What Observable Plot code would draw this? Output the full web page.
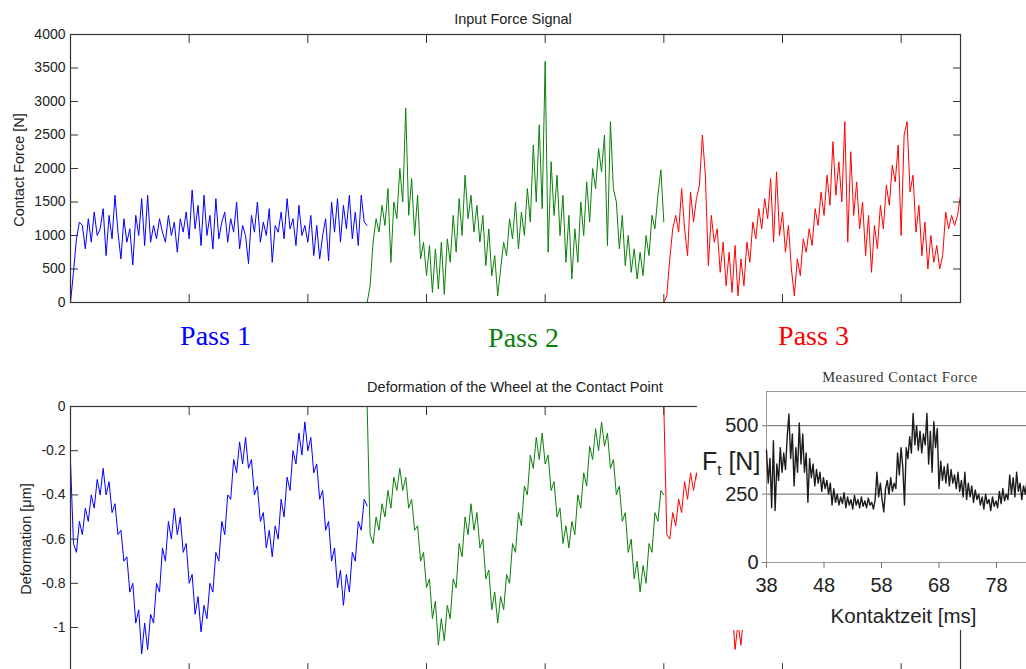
<!DOCTYPE html>
<html><head><meta charset="utf-8">
<script src="https://cdn.jsdelivr.net/npm/d3@7"></script>
<script src="https://cdn.jsdelivr.net/npm/@observablehq/plot@0.6"></script>
<style>
html,body{margin:0;padding:0;background:#fff;overflow:hidden}
#wrap{position:relative;width:1026px;height:669px;overflow:hidden;background:#fff}
.layer{position:absolute}
</style></head><body><div id="wrap"></div>
<script>
// ---------- data ----------
const passNames = ["Pass 1", "Pass 2", "Pass 3"];
const passColors = ["#0000ff", "#0a800a", "#ff0000"];
const passStarts = [0, 2.5, 5];
const passLength = 2.5;
const samplesPerPass = 100;

const forcePass1 = [
  0, 450, 950, 1200, 1150, 800, 1250, 900, 1350, 1000,
  1100, 1400, 700, 1300, 950, 1600, 1050, 650, 1250, 900,
  1100, 560, 1300, 1000, 1550, 850, 1600, 900, 1150, 950,
  1250, 1050, 900, 1300, 1000, 1200, 750, 1250, 1050, 1350,
  950, 1680, 1100, 1450, 850, 1600, 1000, 1300, 800, 1550,
  950, 1200, 1350, 900, 1250, 1050, 1500, 800, 1150, 1000,
  580, 1300, 1050, 1500, 900, 1200, 1000, 1400, 600, 1150,
  1050, 1350, 950, 1550, 1100, 1250, 850, 1450, 1000, 1150,
  900, 1300, 700, 1150, 650, 1000, 1250, 620, 1500, 1050,
  1550, 900, 1450, 1100, 1600, 950, 1350, 850, 1600, 1200,
  1150
];
const forcePass2 = [
  0, 250, 900, 1250, 1050, 1450, 1150, 1700, 600, 1500,
  1250, 2000, 1500, 2900, 1300, 1850, 1000, 1600, 650, 900,
  400, 850, 150, 800, 200, 900, 120, 950, 600, 1300,
  750, 1550, 1000, 1900, 1250, 1600, 1050, 1450, 900, 1300,
  550, 1100, 400, 700, 100, 500, 900, 700, 1250, 950,
  1500, 800, 1350, 1000, 1700, 1200, 2350, 1500, 2650, 1400,
  3600, 750, 2100, 1300, 1900, 1000, 1600, 600, 1300, 350,
  1100, 600, 1500, 1000, 1800, 1200, 2000, 1700, 2300, 1950,
  2500, 850, 2700, 1700, 1500, 800, 1300, 550, 1000, 450,
  800, 350, 750, 400, 1000, 700, 1300, 1100, 1600, 1980,
  1200
];
const forcePass3 = [
  0, 100, 650, 1100, 1300, 1050, 1700, 1100, 700, 1650,
  1200, 1550, 1750, 2500, 1900, 550, 1300, 900, 1100, 450,
  900, 250, 750, 150, 850, 100, 650, 250, 900, 600,
  1200, 950, 1400, 1100, 1550, 1250, 1850, 900, 1950, 1000,
  1350, 750, 1150, 500, 100, 650, 400, 950, 750, 1100,
  850, 1400, 1150, 1650, 1300, 1900, 1450, 2400, 1600, 2100,
  1500, 2700, 900, 2250, 1300, 1800, 1100, 1500, 700, 1300,
  450, 1150, 800, 1450, 1100, 1750, 1450, 2050, 1800, 2350,
  1000, 2500, 2700, 1650, 1900, 1050, 1450, 700, 1200, 500,
  1000, 600, 850, 500, 700, 1350, 1100, 1300, 1150, 1300,
  1600
];

const deformPass1 = [
  -0.25, -0.62, -0.66, -0.52, -0.58, -0.46, -0.52, -0.40, -0.46, -0.33,
  -0.40, -0.28, -0.40, -0.34, -0.48, -0.44, -0.58, -0.56, -0.70, -0.68,
  -0.84, -0.80, -0.98, -0.92, -1.12, -0.98, -1.10, -0.94, -0.98, -0.80,
  -0.84, -0.64, -0.70, -0.52, -0.60, -0.46, -0.58, -0.50, -0.66, -0.62,
  -0.80, -0.76, -0.94, -0.86, -1.02, -0.90, -0.96, -0.80, -0.84, -0.66,
  -0.70, -0.52, -0.58, -0.40, -0.42, -0.24, -0.30, -0.16, -0.26, -0.14,
  -0.28, -0.24, -0.40, -0.36, -0.52, -0.48, -0.64, -0.56, -0.68, -0.54,
  -0.60, -0.42, -0.50, -0.32, -0.38, -0.20, -0.26, -0.12, -0.22, -0.07,
  -0.20, -0.14, -0.30, -0.26, -0.42, -0.38, -0.56, -0.52, -0.70, -0.64,
  -0.82, -0.74, -0.90, -0.76, -0.84, -0.66, -0.70, -0.52, -0.56, -0.42,
  -0.45
];
const deformPass2 = [
  0, -0.58, -0.62, -0.50, -0.56, -0.44, -0.50, -0.38, -0.46, -0.32,
  -0.38, -0.28, -0.38, -0.32, -0.46, -0.42, -0.56, -0.54, -0.70, -0.66,
  -0.82, -0.78, -0.96, -0.88, -1.08, -0.96, -1.06, -0.90, -0.96, -0.78,
  -0.82, -0.62, -0.68, -0.50, -0.58, -0.44, -0.56, -0.48, -0.64, -0.60,
  -0.78, -0.74, -0.92, -0.84, -0.98, -0.86, -0.92, -0.76, -0.80, -0.62,
  -0.66, -0.48, -0.54, -0.36, -0.40, -0.22, -0.28, -0.14, -0.24, -0.12,
  -0.26, -0.22, -0.38, -0.34, -0.50, -0.46, -0.62, -0.54, -0.64, -0.52,
  -0.58, -0.40, -0.46, -0.30, -0.36, -0.18, -0.24, -0.10, -0.20, -0.07,
  -0.18, -0.12, -0.28, -0.24, -0.40, -0.36, -0.52, -0.48, -0.66, -0.60,
  -0.78, -0.70, -0.84, -0.72, -0.80, -0.62, -0.66, -0.48, -0.52, -0.38,
  -0.40
];
const deformPass3 = [
  0, -0.58, -0.60, -0.48, -0.54, -0.42, -0.48, -0.34, -0.42, -0.30,
  -0.38, -0.30, -0.40, -0.34, -0.48, -0.44, -0.58, -0.56, -0.72, -0.68,
  -0.84, -0.80, -0.98, -0.90, -1.10, -0.98, -1.08, -0.92, -0.98, -0.80,
  -0.84, -0.64, -0.70, -0.52, -0.60, -0.46, -0.58, -0.50, -0.66, -0.62,
  -0.80
];

const measuredStart = 38;
const measuredStep = 0.3;
const measuredForce = [
  410, 290, 380, 200, 445, 190, 360, 300, 420, 330,
  400, 340, 460, 543, 380, 470, 280, 420, 330, 510,
  360, 470, 330, 400, 220, 380, 310, 360, 280, 340,
  290, 330, 260, 310, 270, 300, 250, 290, 210, 270,
  220, 250, 210, 240, 215, 255, 200, 240, 210, 230,
  195, 245, 210, 230, 200, 240, 205, 225, 200, 235,
  210, 220, 195, 230, 330, 240, 290, 230, 185, 270,
  300, 250, 310, 260, 290, 270, 400, 320, 420, 350,
  210, 420, 380, 460, 400, 545, 430, 500, 410, 480,
  400, 470, 430, 545, 360, 480, 330, 515, 420, 490,
  270, 370, 300, 350, 290, 360, 280, 340, 290, 320,
  270, 330, 260, 300, 240, 330, 230, 290, 240, 280,
  220, 265, 230, 250, 210, 240, 195, 250, 215, 230,
  190, 240, 205, 225, 200, 260, 215, 270, 225, 250,
  230, 320, 250, 310, 240, 330, 260, 290, 230, 280,
  250, 300, 240, 280
];

const forceTicks = [0, 500, 1000, 1500, 2000, 2500, 3000, 3500, 4000];
const deformTicks = [0, -0.2, -0.4, -0.6, -0.8, -1];
const timeTicks = [1, 2, 3, 4, 5, 6, 7];
const insetTimeTicks = [38, 48, 58, 68, 78];
const insetForceTicks = [0, 250, 500];
const insetGrid = [250, 500];

// ---------- helpers ----------
const SANS = '"Liberation Sans", Arial, sans-serif';
const SERIF = '"Liberation Serif", "Times New Roman", serif';
const rowsOf = (values, p) => values.map((v, i) => ({t: passStarts[p] + i * passLength / samplesPerPass, v}));
const forceRows = [forcePass1, forcePass2, forcePass3].map(rowsOf);
const deformRows = [deformPass1, deformPass2, deformPass3].map(rowsOf);
const measuredRows = measuredForce.map((v, i) => ({t: measuredStart + i * measuredStep, v}));
const blank = () => "";
const plain = d => String(Math.round(d * 10) / 10);
const wrap = document.getElementById("wrap");
function place(node, left, top) {
  const d = document.createElement("div");
  d.className = "layer";
  d.style.left = left + "px"; d.style.top = top + "px";
  d.appendChild(node);
  wrap.appendChild(d);
  return d;
}
const baseStyle = {fontFamily: SANS, fontSize: "14px", color: "#222", background: "transparent", maxWidth: "none", overflow: "visible"};

// ---------- top chart ----------
const topChart = Plot.plot({
  width: 1026, height: 320,
  marginLeft: 70, marginRight: 66, marginTop: 34, marginBottom: 18,
  style: baseStyle,
  x: {domain: [0, 7.5], axis: null},
  y: {domain: [0, 4000], axis: null},
  marks: [
    ...forceRows.map((rows, p) => Plot.line(rows, {x: "t", y: "v", stroke: passColors[p], strokeWidth: 1})),
    Plot.frame({stroke: "#333", strokeWidth: 1.2}),
    Plot.axisY(forceTicks, {anchor: "left", tickSize: 0, tickPadding: 5, label: null, fontSize: 14, tickFormat: plain}),
    Plot.axisY(forceTicks, {anchor: "left", tickSize: -8, tickFormat: blank, label: null, stroke: "#333"}),
    Plot.axisY(forceTicks, {anchor: "right", tickSize: -8, tickFormat: blank, label: null, stroke: "#333"}),
    Plot.axisX(timeTicks, {anchor: "bottom", tickSize: -8, tickFormat: blank, label: null, stroke: "#333"}),
    Plot.axisX(timeTicks, {anchor: "top", tickSize: -8, tickFormat: blank, label: null, stroke: "#333"})
  ]
});
place(topChart, 0, 0);

// ---------- bottom chart ----------
const botChart = Plot.plot({
  width: 1026, height: 300,
  marginLeft: 70, marginRight: 66, marginTop: 26, marginBottom: 8.8,
  style: baseStyle,
  x: {domain: [0, 7.5], axis: null},
  y: {domain: [-1.2, 0], axis: null},
  marks: [
    ...deformRows.map((rows, p) => Plot.line(rows, {x: "t", y: "v", stroke: passColors[p], strokeWidth: 1})),
    Plot.frame({stroke: "#333", strokeWidth: 1.2}),
    Plot.axisY(deformTicks, {anchor: "left", tickSize: 0, tickPadding: 5, label: null, fontSize: 14, tickFormat: plain}),
    Plot.axisY(deformTicks, {anchor: "left", tickSize: -8, tickFormat: blank, label: null, stroke: "#333"}),
    Plot.axisY(deformTicks, {anchor: "right", tickSize: -8, tickFormat: blank, label: null, stroke: "#333"}),
    Plot.axisX(timeTicks, {anchor: "bottom", tickSize: -8, tickFormat: blank, label: null, stroke: "#333"}),
    Plot.axisX(timeTicks, {anchor: "top", tickSize: -8, tickFormat: blank, label: null, stroke: "#333"})
  ]
});
place(botChart, 0, 380);

// ---------- inset chart ----------
const insetChart = Plot.plot({
  width: 400, height: 268,
  marginLeft: 69, marginRight: 55, marginTop: 29, marginBottom: 68,
  style: {...baseStyle, background: "#fff", fontSize: "20px"},
  x: {domain: [38, 86], axis: null},
  y: {domain: [0, 625], axis: null},
  marks: [
    Plot.ruleY(insetGrid, {stroke: "#666", strokeWidth: 1}),
    Plot.frame({stroke: "#999", strokeWidth: 1}),
    Plot.line(measuredRows, {x: "t", y: "v", stroke: "#1c1c1c", strokeWidth: 1.4}),
    Plot.axisY(insetForceTicks, {anchor: "left", tickSize: 4, tickPadding: 4, label: null, fontSize: 20, stroke: "#777", fill: "#222", tickFormat: plain}),
    Plot.axisX(insetTimeTicks, {anchor: "bottom", tickSize: 6, tickPadding: 9, label: null, fontSize: 20, stroke: "#777", fill: "#222", tickFormat: plain})
  ]
});
const insetLayer = place(insetChart, 697, 362);
insetLayer.style.background = "#fff";

// ---------- text overlay ----------
const ov = d3.create("svg").attr("width", 1026).attr("height", 669)
  .style("position", "absolute").style("left", "0px").style("top", "0px").style("pointer-events", "none");
function label(x, y, s, {size = 14.5, family = SANS, fill = "#222", anchor = "middle", rotate = 0, spacing = 0} = {}) {
  return ov.append("text")
    .attr("transform", `translate(${x},${y})` + (rotate ? ` rotate(${rotate})` : ""))
    .attr("text-anchor", anchor).attr("font-family", family).attr("font-size", size)
    .attr("letter-spacing", spacing).attr("fill", fill).text(s);
}
label(513, 24, "Input Force Signal");
label(23.5, 170, "Contact Force [N]", {rotate: -90});
label(515, 392, "Deformation of the Wheel at the Contact Point");
label(31, 539, "Deformation [\u03bcm]", {rotate: -90});
label(215.5, 345, passNames[0], {size: 28, family: SERIF, fill: passColors[0]});
label(523.5, 347, passNames[1], {size: 28, family: SERIF, fill: passColors[1]});
label(813.5, 345, passNames[2], {size: 28, family: SERIF, fill: passColors[2]});
label(900, 382, "Measured Contact Force", {size: 14.5, family: SERIF, fill: "#333", spacing: 0.6});
label(903.5, 623, "Kontaktzeit [ms]", {size: 20.5, fill: "#222"});
const ft = ov.append("text").attr("x", 702).attr("y", 470).attr("font-family", SANS).attr("font-size", 25).attr("fill", "#222");
ft.append("tspan").text("F");
ft.append("tspan").attr("font-size", 15).attr("dy", 5).text("t");
ft.append("tspan").attr("dy", -5).text(" [N]");
wrap.appendChild(ov.node());
</script></body></html>
